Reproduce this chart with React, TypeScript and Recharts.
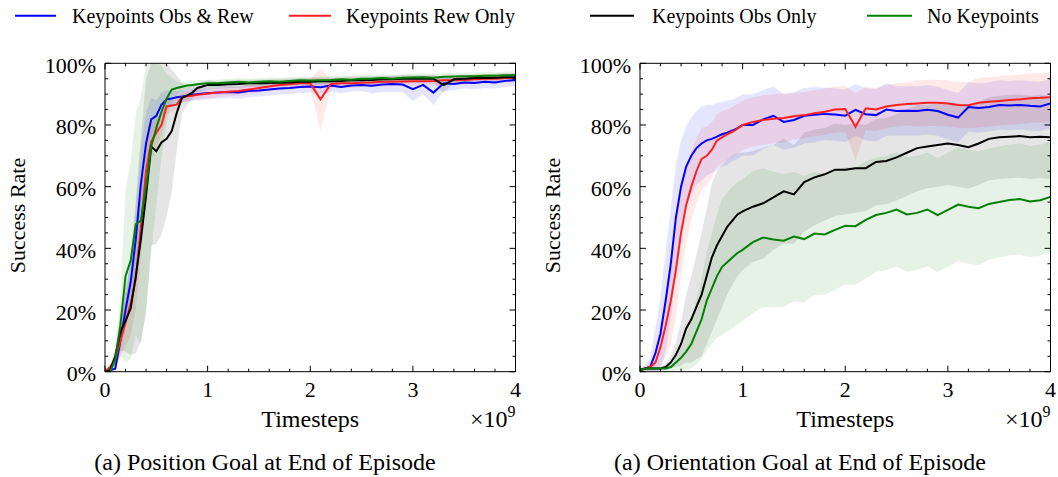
import React from 'react';
import { ComposedChart, Line, Area, XAxis, YAxis, ReferenceLine } from 'recharts';

// ---------- data ----------
const STEPS = [0, 0.05, 0.1, 0.15, 0.2, 0.25, 0.3, 0.35, 0.4, 0.45, 0.5, 0.55, 0.6, 0.65, 0.7, 0.75, 0.8, 0.85, 0.9, 0.95, 1.0,
  1.1, 1.2, 1.3, 1.4, 1.5, 1.6, 1.7, 1.8, 1.9, 2.0, 2.1, 2.2, 2.3, 2.4, 2.5, 2.6, 2.7, 2.8, 2.9, 3.0,
  3.1, 3.2, 3.3, 3.4, 3.5, 3.6, 3.7, 3.8, 3.9, 4.0];

const SERIES_NAMES = ['Keypoints Obs & Rew', 'Keypoints Rew Only', 'Keypoints Obs Only', 'No Keypoints'];
const SERIES_COLORS = ['#0000ff', '#ff2020', '#000000', '#008000'];

const X_TICKS = [0, 0.2, 0.4, 0.6, 0.8, 1, 1.2, 1.4, 1.6, 1.8, 2, 2.2, 2.4, 2.6, 2.8, 3, 3.2, 3.4, 3.6, 3.8, 4];
const Y_TICKS = [0, 5, 10, 15, 20, 25, 30, 35, 40, 45, 50, 55, 60, 65, 70, 75, 80, 85, 90, 95, 100];

const PANEL_CAPTIONS = ['(a) Position Goal at End of Episode', '(a) Orientation Goal at End of Episode'];
const X_LABEL = 'Timesteps';
const Y_LABEL = 'Success Rate';

// Position goal (left panel) – mean success rate (%)
const POS_OBS_REW = [0, 0.5, 1, 10, 20, 29, 43, 61, 74, 81.8, 83, 86.5, 88.3, 88.6, 89, 89.2, 89.5, 89.8, 90, 90.2, 90.3,
  90.5, 90.7, 90.5, 91, 91.2, 91.5, 91.8, 92, 92.3, 92.5, 92.2, 92.8, 92.3, 92.8, 93, 92.7, 93.1, 93.3, 93.1, 91.6,
  93, 90.5, 93.5, 93.3, 93.8, 93.6, 94, 93.8, 94.3, 94.6];
const POS_REW_ONLY = [0, 1.5, 4, 10, 16, 22, 30, 47, 65, 74.5, 77.5, 80, 86, 86.3, 86.6, 89, 89.3, 89.5, 89.8, 90, 90.2,
  90.5, 90.8, 91, 91.5, 92, 92.5, 93, 93.2, 93.5, 93.5, 88.3, 93.3, 93.5, 93.5, 93.7, 93.8, 94, 94, 94.1, 94.2,
  94.2, 94.3, 94.5, 94.5, 94.6, 94.8, 95, 95, 95.2, 95.3];
const POS_OBS_ONLY = [0, 0.5, 5, 13, 16.5, 20.5, 31, 43, 57, 73, 71.5, 74.3, 75.5, 78, 84, 88.8, 89.5, 90.5, 92, 92.5, 93,
  93, 93.2, 93.3, 93.5, 93.5, 93.6, 93.7, 93.8, 94, 94, 94.2, 94.2, 94.3, 94.5, 94.5, 94.6, 94.8, 94.8, 95, 95,
  95, 95, 92.9, 94.8, 95, 95.2, 95.2, 95.3, 95.5, 95.5];
const POS_NO_KP = [0, 0, 4, 15, 31, 36, 47.8, 49, 60, 73, 79, 84.3, 88.5, 91.5, 92, 92.4, 92.8, 93, 93.2, 93.4, 93.5,
  93.5, 93.8, 94, 93.8, 94, 94.2, 94, 94.3, 94.5, 94.4, 94.5, 94.6, 94.8, 94.7, 95, 95, 95.2, 95, 95.3, 95.4,
  95.5, 95.3, 95.6, 95.7, 95.8, 95.8, 96, 96, 96.1, 96.2];

// Position goal – spread (half width of shaded band, %)
const POS_OBS_REW_SD = [0, 1, 2, 4, 6, 8, 10, 12, 10, 7, 5, 4, 3, 2.5, 2, 2, 2, 2, 2, 2, 2,
  2, 2, 2, 2, 2, 2, 2, 2, 2, 2, 2, 2, 2, 2, 2, 2.5, 2.5, 2.5, 2.5, 4,
  3, 4, 2.5, 2, 2, 2, 2, 2, 2, 2];
const POS_REW_ONLY_SD = [0, 1, 2, 5, 8, 10, 10, 10, 8, 6, 5, 3.5, 2.5, 2, 1.5, 1.5, 1.5, 1.5, 1.5, 1.5, 1.5,
  1.5, 1.5, 1.5, 1.5, 1.5, 1.5, 1.5, 1.5, 1.5, 1.5, 10, 1.5, 1.5, 1.5, 1.5, 1.5, 1.5, 1.5, 1.5, 1.5,
  1.5, 1.5, 1.5, 1.5, 1.5, 1.5, 1.5, 1.5, 1.5, 1.5];
const POS_OBS_ONLY_SD = [0, 1, 3, 6, 10, 15, 25, 33, 38, 32, 30, 30, 25, 20, 12, 5, 3, 2, 1.5, 1.5, 1.5,
  1.2, 1.2, 1.2, 1.2, 1.2, 1.2, 1.2, 1.2, 1.2, 1.2, 1.2, 1.2, 1.2, 1.2, 1.2, 1.2, 1.2, 1.2, 1.2, 1.2,
  1.2, 1.2, 2.5, 1.2, 1.2, 1.2, 1.2, 1.2, 1.2, 1.2];
const POS_NO_KP_SD = [0, 1, 3, 10, 28, 32, 36, 40, 40, 35, 25, 15, 8, 4, 2, 1.5, 1.2, 1.2, 1.2, 1.2, 1.2,
  1.2, 1.2, 1.2, 1.2, 1.2, 1.2, 1.2, 1.2, 1.2, 1.2, 1.2, 1.2, 1.2, 1.2, 1.2, 1.2, 1.2, 1.2, 1.2, 1.2,
  1.2, 1.2, 1.2, 1.2, 1.2, 1.2, 1.2, 1.2, 1.2, 1.2];

// Orientation goal (right panel) – mean success rate (%)
const ORI_OBS_REW = [0.5, 1, 1.6, 6, 12.4, 23, 35, 50, 60, 66.5, 70, 72.5, 74, 75, 75.5, 76.2, 77, 77.5, 78.2, 79, 80,
  80, 81.8, 83, 81, 81.6, 83, 83.3, 83.6, 83.4, 83, 84.9, 83.5, 83.2, 85, 84.5, 84.6, 84.5, 84.9, 84.5, 83.3,
  82.4, 85.8, 85.5, 85.8, 86.5, 86.3, 86.5, 86.2, 86, 87];
const ORI_REW_ONLY = [0.5, 1, 1.5, 3, 8, 15, 23, 33, 45, 54, 60, 65, 69, 70, 72, 75, 76, 77, 77.8, 78.8, 80,
  81, 81.6, 82, 82.3, 82.8, 83.2, 83.8, 84.3, 85, 85.2, 79.4, 85.4, 85, 86, 86.5, 86.8, 87, 87.2, 87.2, 87,
  86.5, 86.4, 87.2, 87.5, 87.8, 88.1, 88.3, 88.7, 88.8, 89];
const ORI_OBS_ONLY = [0.5, 1, 1, 1, 1, 1.5, 3, 5.5, 9, 14, 17, 21, 25, 31, 37, 41, 44, 47, 49, 51, 52,
  53.5, 54.6, 56.5, 58.5, 57.5, 61.5, 63, 64, 65.5, 65.5, 66, 66, 68, 68.3, 69.5, 71, 72.5, 73, 73.5, 74,
  73.5, 72.8, 74, 75.5, 76, 76.2, 76.4, 76, 76.2, 76];
const ORI_NO_KP = [0.5, 1, 1, 1, 1, 1, 1.5, 3, 4.5, 6.5, 9, 13, 17, 23, 27, 31, 34, 35.5, 37, 38.5, 39.5,
  42, 43.5, 42.9, 42.5, 43.8, 43, 44.8, 44.5, 46, 47.3, 47.2, 49.2, 50.8, 51.5, 52.6, 51, 51.5, 52.6, 50.8, 52.5,
  54.2, 53.5, 53, 54.4, 55, 55.7, 56, 55.2, 55.6, 56.7];

// Orientation goal – spread (half width of shaded band, %)
const ORI_OBS_REW_SD = [0.5, 1, 3, 8, 12, 16, 18, 17, 15, 13, 12.5, 12, 12, 11.5, 11, 11, 10.5, 10.5, 10, 10, 10,
  10, 9.5, 9.5, 9, 9, 9, 9, 8.5, 8.5, 8.5, 8.5, 8.5, 8.5, 8.5, 8, 8, 8, 8, 8, 8,
  8, 8, 8, 8, 8, 8, 8, 8, 8, 8];
const ORI_REW_ONLY_SD = [0.5, 1, 1.5, 3, 6, 10, 14, 15, 14, 12, 11, 10.5, 10, 9.5, 9, 8.5, 8.5, 8, 8, 8, 8,
  8, 8, 8, 8, 7.5, 7.5, 7.5, 7.5, 7.5, 7.5, 11, 7, 7, 7, 7, 7, 7.5, 7.5, 7.5, 7.5,
  7.5, 7.5, 8, 8, 8, 8, 8, 8, 8, 8];
const ORI_OBS_ONLY_SD = [0.5, 0.5, 0.5, 0.5, 0.5, 1, 2, 4, 7, 11, 14, 17, 20, 22, 24, 24, 23, 22, 21, 20, 19,
  18, 18, 17, 17, 16, 16, 15.5, 15, 15, 14.5, 14.5, 14, 14, 14, 14, 14, 14, 13.5, 13.5, 13.5,
  13.5, 13.5, 13.5, 13.5, 13.5, 13.5, 13.5, 13.5, 13.5, 13.5];
const ORI_NO_KP_SD = [0.5, 0.5, 0.5, 0.5, 0.5, 1, 1.5, 2.5, 4, 6, 8, 10.5, 13, 16, 18, 20, 22, 22.5, 23, 23, 23,
  23, 22.5, 22, 21.5, 21, 20.5, 20, 19.5, 19.5, 19, 19, 19, 18.5, 18.5, 18.5, 18.5, 18.5, 18.5, 18.5, 18.5,
  18.5, 18.5, 18.5, 18, 18, 18, 18, 18, 18, 18];

// ---------- layout ----------
const W = 1058;
const H = 477;
const PLOT_TOP = 63.3;
const PLOT_BOTTOM = 371.7;
const AXIS_W = 40;
const AXIS_H = 30;
const PANELS = [
  { left: 105, right: 515.5 },
  { left: 640, right: 1050.5 },
];
const FONT = "'Liberation Serif', 'DejaVu Serif', 'Times New Roman', serif";

const clamp = (v: number) => Math.max(0, Math.min(100, v));

function buildRows(means: number[][], sds: number[][]) {
  return STEPS.map((x, i) => {
    const row: any = { x };
    means.forEach((m, k) => {
      row['s' + k] = m[i];
      row['b' + k] = [clamp(m[i] - sds[k][i]), clamp(m[i] + sds[k][i])];
    });
    return row;
  });
}

const POS_ROWS = buildRows(
  [POS_OBS_REW, POS_REW_ONLY, POS_OBS_ONLY, POS_NO_KP],
  [POS_OBS_REW_SD, POS_REW_ONLY_SD, POS_OBS_ONLY_SD, POS_NO_KP_SD]
);
const ORI_ROWS = buildRows(
  [ORI_OBS_REW, ORI_REW_ONLY, ORI_OBS_ONLY, ORI_NO_KP],
  [ORI_OBS_REW_SD, ORI_REW_ONLY_SD, ORI_OBS_ONLY_SD, ORI_NO_KP_SD]
);

const XTick = (props: any) => {
  const { x, payload } = props;
  const v = payload.value as number;
  const major = Math.abs(v - Math.round(v)) < 1e-6;
  const len = major ? 6 : 3;
  return (
    <g>
      <line x1={x} x2={x} y1={PLOT_BOTTOM} y2={PLOT_BOTTOM - len} stroke="#000" strokeWidth={1} />
      <line x1={x} x2={x} y1={PLOT_TOP} y2={PLOT_TOP + len} stroke="#000" strokeWidth={1} />
      {major && (
        <text x={x} y={PLOT_BOTTOM + 25.5} textAnchor="middle" fontSize={22} fontFamily={FONT} fill="#000">
          {Math.round(v)}
        </text>
      )}
    </g>
  );
};

const makeYTick = (left: number, right: number) => (props: any) => {
  const { y, payload } = props;
  const v = payload.value as number;
  const major = v % 20 === 0;
  const len = major ? 6 : 3;
  return (
    <g>
      <line x1={left} x2={left + len} y1={y} y2={y} stroke="#000" strokeWidth={1} />
      <line x1={right} x2={right - len} y1={y} y2={y} stroke="#000" strokeWidth={1} />
      {major && (
        <text x={left - 9} y={y + 9.5} textAnchor="end" fontSize={22} fontFamily={FONT} fill="#000">
          {v + '%'}
        </text>
      )}
    </g>
  );
};

function Panel({ rows, idx }: { rows: any[]; idx: number }) {
  const p = PANELS[idx];
  const YTick = makeYTick(p.left, p.right);
  return (
    <div style={{ position: 'absolute', left: 0, top: 0 }}>
      <ComposedChart
        width={W}
        height={H}
        data={rows}
        margin={{ top: PLOT_TOP, bottom: H - PLOT_BOTTOM - AXIS_H, left: p.left - AXIS_W, right: W - p.right }}
      >
        <XAxis
          dataKey="x"
          type="number"
          domain={[0, 4]}
          ticks={X_TICKS}
          interval={0}
          height={AXIS_H}
          tickLine={false}
          tick={XTick}
          axisLine={{ stroke: '#000', strokeWidth: 1 }}
          allowDataOverflow
        />
        <YAxis
          type="number"
          domain={[0, 100]}
          ticks={Y_TICKS}
          interval={0}
          width={AXIS_W}
          tickLine={false}
          tick={YTick}
          axisLine={{ stroke: '#000', strokeWidth: 1 }}
          allowDataOverflow
        />
        {SERIES_COLORS.map((c, k) => (
          <Area
            key={'b' + k}
            type="linear"
            dataKey={'b' + k}
            stroke="none"
            fill={c}
            fillOpacity={0.1}
            isAnimationActive={false}
            activeDot={false}
            dot={false}
          />
        ))}
        {SERIES_COLORS.map((c, k) => (
          <Line
            key={'s' + k}
            type="linear"
            dataKey={'s' + k}
            stroke={c}
            strokeWidth={2}
            dot={false}
            activeDot={false}
            isAnimationActive={false}
          />
        ))}
        <ReferenceLine y={100} stroke="#000" strokeWidth={1} />
        <ReferenceLine x={4} stroke="#000" strokeWidth={1} />
      </ComposedChart>
    </div>
  );
}

const LEGEND_POS = [
  { x1: 15, x2: 56, tx: 72 },
  { x1: 289, x2: 331, tx: 346 },
  { x1: 590, x2: 634, tx: 652 },
  { x1: 867, x2: 912, tx: 927 },
];

function Overlay() {
  const captionX = [265, 800];
  return (
    <svg
      width={W}
      height={H}
      style={{ position: 'absolute', left: 0, top: 0, pointerEvents: 'none' }}
      fontFamily={FONT}
    >
      {SERIES_NAMES.map((name, k) => (
        <g key={name}>
          <line
            x1={LEGEND_POS[k].x1}
            x2={LEGEND_POS[k].x2}
            y1={15.7}
            y2={15.7}
            stroke={SERIES_COLORS[k]}
            strokeWidth={2}
          />
          <text x={LEGEND_POS[k].tx} y={23} fontSize={20} fill="#000">
            {name}
          </text>
        </g>
      ))}
      {PANELS.map((p, i) => {
        const cx = (p.left + p.right) / 2;
        const cy = (PLOT_TOP + PLOT_BOTTOM) / 2 - 2;
        const lx = p.left - 80;
        return (
          <g key={i}>
            <text
              x={lx}
              y={cy}
              fontSize={22}
              textAnchor="middle"
              transform={`rotate(-90 ${lx} ${cy})`}
              fill="#000"
            >
              {Y_LABEL}
            </text>
            <text x={cx} y={427} fontSize={24} textAnchor="middle" fill="#000">
              {X_LABEL}
            </text>
            <text x={p.right} y={427} fontSize={24} textAnchor="end" fill="#000">
              ×10<tspan fontSize={16} dy={-10}>9</tspan>
            </text>
            <text x={captionX[i]} y={470} fontSize={24} textAnchor="middle" fill="#000">
              {PANEL_CAPTIONS[i]}
            </text>
          </g>
        );
      })}
    </svg>
  );
}

export default function App() {
  return (
    <div style={{ position: 'absolute', left: 0, top: 0, width: W, height: H, background: '#fff' }}>
      <Panel rows={POS_ROWS} idx={0} />
      <Panel rows={ORI_ROWS} idx={1} />
      <Overlay />
    </div>
  );
}
